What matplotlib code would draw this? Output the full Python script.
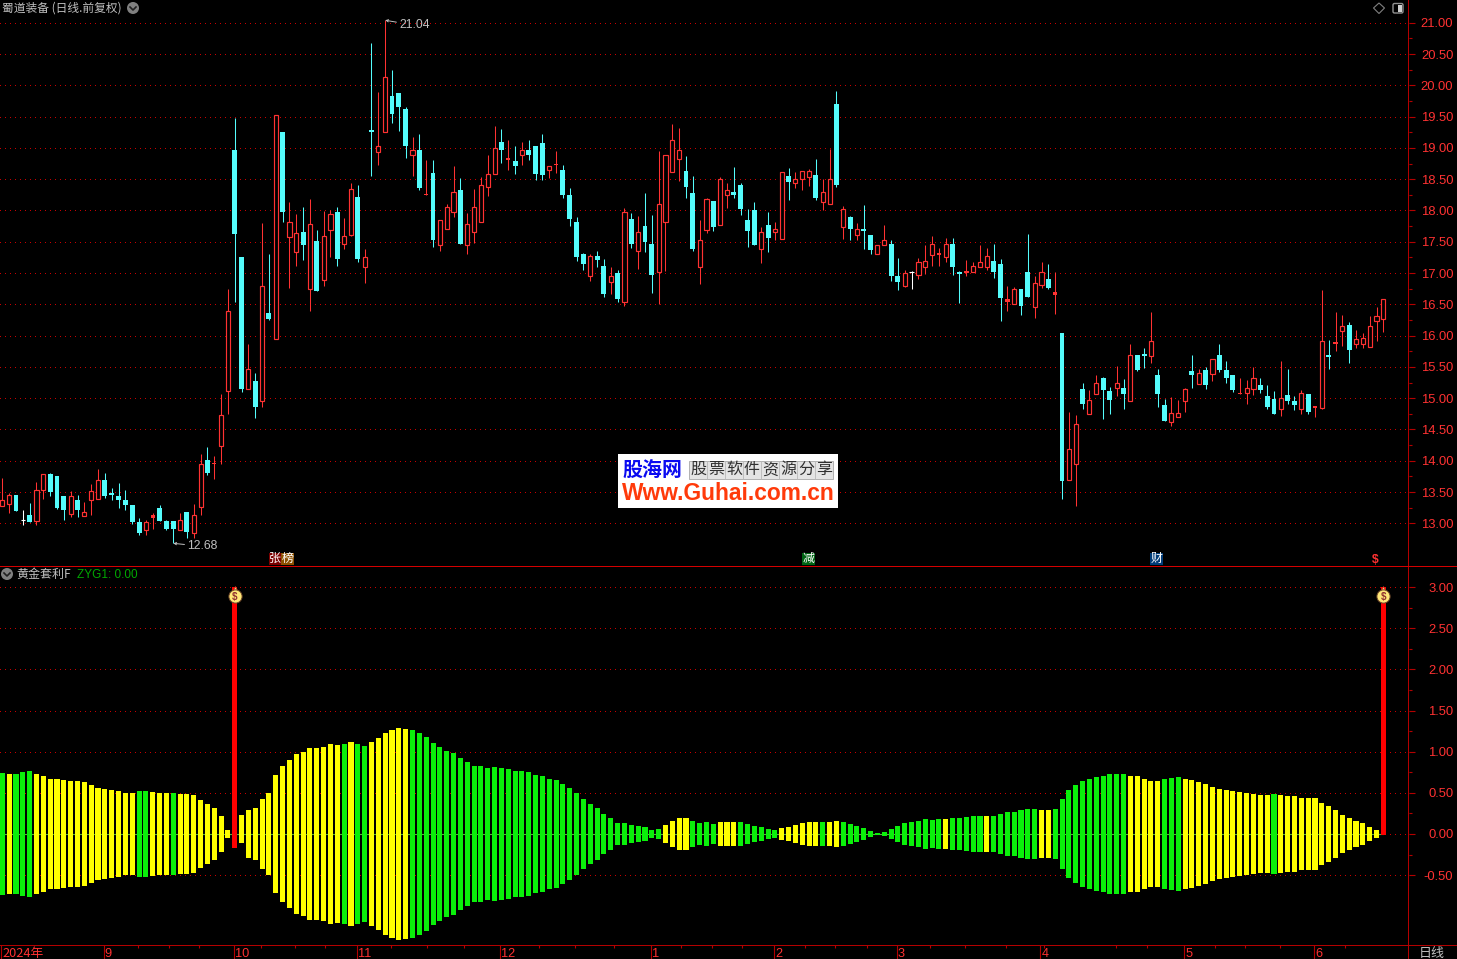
import numpy as np
import matplotlib
matplotlib.use('Agg')
import matplotlib.pyplot as plt
from matplotlib.patches import Rectangle, Circle, Polygon, FancyBboxPatch

CJK = ['Noto Sans CJK SC', 'DejaVu Sans']
NUM = ['Liberation Sans', 'DejaVu Sans']

high = [13.72,13.49,13.45,13.21,13.32,13.66,13.79,13.80,13.76,13.44,
13.52,13.45,13.34,13.63,13.87,13.80,13.56,13.64,13.53,13.29,
13.09,13.05,13.16,13.29,13.05,13.04,13.17,13.18,13.31,14.11,
14.22,14.08,15.07,16.75,19.48,17.26,15.87,15.40,17.80,17.30,
19.52,19.25,18.14,17.94,18.06,18.18,17.69,17.99,18.01,18.06,
17.88,18.44,18.41,17.38,20.68,19.89,21.04,20.25,19.88,19.65,
19.17,19.22,18.81,18.81,17.84,18.10,18.71,18.52,17.96,18.34,
18.54,18.89,19.35,19.30,19.13,19.03,19.09,19.13,19.03,19.22,
18.71,18.95,18.73,18.36,17.90,17.32,17.30,17.35,17.22,17.10,
17.05,18.04,17.96,17.91,18.28,17.93,18.95,18.89,19.38,19.32,
18.87,18.55,17.85,18.20,18.15,18.54,18.44,18.70,18.44,18.02,
18.14,17.74,17.98,17.82,18.61,18.68,18.62,18.63,18.66,18.82,
18.50,18.98,19.91,18.07,17.91,17.80,18.09,17.61,17.44,17.77,
17.53,17.24,17.05,17.04,17.24,17.45,17.59,17.40,17.56,17.56,
17.03,17.21,17.18,17.45,17.40,17.46,17.22,16.79,16.78,16.75,
17.62,16.95,17.18,17.14,17.02,16.04,14.78,14.73,15.24,15.13,
15.37,15.34,15.18,15.51,15.31,15.87,15.69,15.80,16.38,15.47,
14.99,15.02,14.97,15.16,15.69,15.47,15.50,15.62,15.87,15.59,
15.37,15.32,15.29,15.50,15.32,15.21,15.12,15.59,15.47,15.04,
15.13,15.07,14.88,16.73,15.93,16.38,16.33,16.22,16.09,16.04,
16.31,16.46,16.58]

body_top = [13.37,13.45,13.45,13.05,13.13,13.53,13.78,13.79,13.76,13.44,
13.43,13.37,13.18,13.51,13.69,13.69,13.45,13.44,13.37,13.29,
13.02,13.02,13.13,13.25,13.04,13.04,13.05,13.18,13.13,13.94,
14.01,13.96,14.73,16.39,18.97,17.26,15.46,15.27,16.79,16.36,
19.52,19.25,17.81,17.64,17.66,17.78,17.51,17.59,17.95,17.98,
17.59,18.35,18.22,17.25,19.27,19.03,20.13,19.83,19.88,19.62,
18.96,18.97,18.26,18.60,17.84,18.05,18.29,18.33,17.78,18.05,
18.40,18.58,19.00,19.09,18.83,18.79,18.96,18.97,19.03,19.08,
18.71,18.73,18.65,18.25,17.82,17.30,17.27,17.27,17.11,16.95,
17.00,17.97,17.86,17.65,17.75,17.46,18.11,18.89,19.12,18.96,
18.63,18.28,17.52,18.18,18.15,18.50,18.32,18.30,18.41,17.85,
18.01,17.65,17.77,17.70,18.61,18.55,18.51,18.63,18.63,18.57,
18.29,18.51,19.70,18.03,17.90,17.70,17.70,17.61,17.44,17.52,
17.46,16.95,17.00,17.02,17.17,17.20,17.46,17.30,17.46,17.46,
17.02,17.01,17.11,17.17,17.27,17.19,17.14,16.58,16.74,16.75,
17.02,16.84,17.01,16.91,16.69,16.04,14.18,14.58,15.15,14.97,
15.25,15.32,15.12,15.24,15.16,15.69,15.69,15.69,15.91,15.37,
14.89,14.76,14.77,15.14,15.43,15.41,15.45,15.62,15.69,15.45,
15.37,15.09,15.16,15.33,15.21,15.04,14.99,15.00,15.05,14.96,
15.09,15.07,14.86,15.92,15.69,15.88,16.16,16.17,15.94,15.96,
16.15,16.31,16.58]

body_bot = [13.28,13.31,13.19,13.05,13.02,13.03,13.53,13.50,13.25,13.21,
13.15,13.21,13.12,13.38,13.39,13.44,13.45,13.37,13.29,13.02,
12.85,12.89,13.09,13.04,12.91,12.91,12.89,12.86,12.85,13.26,
13.80,13.94,14.23,15.12,17.63,15.15,15.14,14.86,14.96,16.27,
15.95,17.97,17.57,17.33,17.45,16.75,16.71,16.89,17.68,17.22,
17.47,17.61,17.22,17.10,19.25,18.94,19.26,19.54,19.65,19.03,
18.89,18.36,18.24,17.53,17.45,17.71,17.97,17.46,17.45,17.65,
17.82,18.37,18.59,18.97,18.81,18.71,18.88,18.89,18.58,18.57,
18.64,18.72,18.25,17.86,17.26,17.14,16.95,17.21,16.67,16.86,
16.59,16.53,17.46,17.35,17.50,16.97,17.02,17.82,18.62,18.83,
18.38,17.38,17.10,17.69,17.74,17.76,18.24,18.25,18.02,17.67,
17.45,17.39,17.56,17.65,17.55,18.46,18.44,18.51,18.54,18.20,
18.13,18.11,18.41,17.74,17.70,17.60,17.67,17.37,17.31,17.44,
16.95,16.86,16.80,17.02,16.97,17.10,17.29,17.29,17.26,17.10,
16.99,17.00,17.01,17.10,17.10,17.02,16.60,16.54,16.51,16.47,
16.62,16.45,16.81,16.76,16.65,13.68,13.70,13.95,14.91,14.74,
15.06,15.13,14.97,15.17,15.07,14.96,15.45,15.67,15.68,15.07,
14.64,14.62,14.70,14.96,15.37,15.22,15.21,15.39,15.45,15.32,
15.13,15.06,15.09,15.14,15.13,14.86,14.75,14.82,14.96,14.89,
14.82,14.78,14.84,14.85,15.66,15.87,16.08,15.77,15.86,15.87,
15.81,16.23,16.26]

low = [13.28,13.17,13.19,12.97,13.02,12.97,13.39,13.44,13.23,13.05,
13.10,13.10,13.12,13.13,13.39,13.40,13.37,13.25,13.21,12.99,
12.81,12.81,12.91,13.04,12.89,12.68,12.89,12.77,12.77,13.13,
13.77,13.71,13.95,14.75,16.53,15.10,15.14,14.68,14.86,16.25,
15.95,17.82,16.76,17.11,17.21,16.39,16.71,16.79,17.26,17.11,
17.38,17.59,17.18,16.84,18.55,18.73,19.26,19.40,19.27,18.84,
18.55,18.33,18.24,17.42,17.35,17.71,17.90,17.46,17.30,17.48,
17.82,18.23,18.59,18.76,18.65,18.58,18.73,18.81,18.49,18.49,
18.52,18.60,18.20,17.75,17.19,17.05,16.87,17.10,16.62,16.67,
16.54,16.47,17.40,17.07,17.34,16.68,16.51,17.03,18.62,18.47,
18.20,17.35,16.83,17.64,17.67,17.76,18.04,18.20,17.93,17.42,
17.45,17.16,17.34,17.53,17.55,18.17,18.36,18.33,18.39,18.17,
18.01,18.11,18.38,17.54,17.53,17.53,17.38,17.30,17.31,17.44,
16.87,16.73,16.78,16.75,16.91,16.99,17.11,17.11,17.18,16.97,
16.52,16.95,17.01,17.10,17.05,16.92,16.23,16.39,16.51,16.33,
16.62,16.28,16.76,16.75,16.35,13.39,13.70,13.28,14.83,14.74,
15.06,14.67,14.75,15.04,14.83,14.96,15.43,15.48,15.56,14.86,
14.64,14.56,14.70,14.78,15.16,15.22,15.15,15.27,15.42,15.24,
15.10,15.06,14.91,15.05,15.08,14.83,14.75,14.72,14.91,14.81,
14.75,14.75,14.70,14.83,15.47,15.75,15.83,15.56,15.80,15.80,
15.81,15.91,16.06]

candle_kind = ("rrcwcrrccc" "rcrrrccccc" "crrcccrcrr" "crrrccrcrc"
               "rcrrcrcrrc" "rrcrcrrccc" "rcrcrrrcrr" "rrrcrcrccc"
               "rrccccrccr" "crcrccrrrr" "ccrrcrrccc" "crcrrcrrrc"
               "rrcrcrccrr" "ccrwrrrrrc" "crrrrccrrc" "crrcrcrrcr"
               "rccrcrccrc" "crrrcrcrcc" "crrrcccrcc" "rcrrcrrcrr" "rrr")

zyg_amp = [.74,.73,.73,.75,.76,.73,.70,.67,.67,.66,
.64,.64,.63,.60,.56,.55,.53,.52,.50,.50,
.52,.52,.51,.50,.50,.50,.49,.49,.47,.41,
.36,.31,.22,.05,3.00,.23,.29,.32,.43,.50,
.72,.82,.90,.97,1.00,1.05,1.04,1.06,1.09,1.08,
1.09,1.12,1.09,1.07,1.12,1.16,1.23,1.26,1.29,1.28,
1.26,1.23,1.18,1.11,1.06,1.01,.98,.92,.87,.83,
.82,.80,.81,.80,.79,.77,.76,.75,.72,.70,
.67,.66,.61,.56,.50,.43,.37,.32,.24,.19,
.13,.13,.11,.10,.09,.05,.06,.11,.16,.19,
.19,.16,.13,.14,.12,.14,.15,.15,.15,.12,
.10,.08,.06,.05,.07,.09,.11,.13,.15,.15,
.15,.15,.16,.15,.12,.10,.07,.04,.01,.02,
.06,.10,.13,.15,.16,.18,.17,.18,.18,.19,
.20,.21,.22,.22,.22,.22,.24,.27,.27,.29,
.30,.30,.29,.29,.30,.43,.53,.60,.64,.67,
.69,.71,.73,.73,.73,.71,.70,.67,.64,.64,
.67,.68,.69,.67,.65,.63,.61,.57,.55,.53,
.52,.51,.50,.48,.47,.47,.48,.47,.46,.46,
.44,.44,.44,.38,.34,.29,.23,.20,.16,.13,
.09,.05,3.00]
zyg_lower_override = {34: -0.17, 35: -0.11, 202: -0.01}

zyg_colors = ('G' 'Y' 'GGG' + 'Y'*15 + 'GG' + 'YYY' + 'G' + 'Y'*8 + 'R' + 'Y'*15 + 'G' + 'Y' + 'GG'
              + 'Y'*6 + 'G'*37 + 'Y'*4 + 'G'*4 + 'Y'*3 + 'G'*6 + 'Y'*6 + 'G' + 'YY' + 'G'*15
              + 'Y' + 'G'*5 + 'Y' + 'G'*7 + 'YY' + 'G'*11 + 'Y'*5 + 'GGG' + 'Y'*13 + 'G' + 'Y'*15 + 'R')

price_ticks = [13 + 0.5*k for k in range(17)]
zyg_ticks = [-0.5 + 0.5*k for k in range(8)]
month_idx = [0, 15, 34, 52, 73, 95, 113, 131, 152, 173, 192]
month_labels = ['2024年', '9', '10', '11', '12', '1', '2', '3', '4', '5', '6']
week_idx = [20, 24.6, 29, 38, 43, 47.4, 57, 62.3, 67.7, 78.6, 84, 89.6, 99.4, 104, 108.4,
            117.6, 122, 126.6, 135.8, 141, 147, 152.6, 163, 167.6, 177.6, 182, 187, 196.6]

X_PER = 6.837
X0 = 2.3
W, H = 1457, 959
BG = 'black'
AXC = '#B40000'
GRID = '#C80000'
TICKC = '#FF3232'
RED = '#FF3232'
CYAN = '#54FCFC'
GRAY = '#C0C0C0'

fig = plt.figure(figsize=(W/100, H/100), dpi=100, facecolor=BG)
def add_ax(top, bottom):
    return fig.add_axes([0, 1-bottom/H, 1408.5/W, (bottom-top)/H], facecolor=BG)

ax = add_ax(0, 566.5)
ax2 = add_ax(566.5, 945)
xlim = ((0-X0)/X_PER, (1408.5-X0)/X_PER)
ax.set_xlim(*xlim); ax2.set_xlim(*xlim)
ax.set_ylim(13-(566.5-523.3)/62.57, 13+523.3/62.57)
ax2.set_ylim(-(945-834)/82.33, (834-566.5)/82.33)

for a, ticks in ((ax, price_ticks), (ax2, zyg_ticks)):
    for s in a.spines.values():
        s.set_visible(False)
    a.yaxis.tick_right()
    a.set_yticks(ticks)
    a.set_yticks([t+0.25 for t in ticks[:-1]], minor=True)
    a.set_yticklabels(['%.2f' % t for t in ticks], fontfamily=NUM, fontsize=9.4, color=TICKC, ha='right')
    a.tick_params(axis='y', which='major', length=4.3, width=0.8, color=AXC, pad=28)
    a.tick_params(axis='y', which='minor', length=2.2, width=0.8, color=AXC)
    for t in ticks:
        a.axhline(t, color=GRID, lw=0.7, ls=(0, (0.9, 4.2)), zorder=1, antialiased=False)

ax.set_xticks([])

# candles
x = np.arange(len(high))
h = np.array(high); l = np.array(low); t = np.array(body_top); b = np.array(body_bot)
kinds = list(candle_kind)
cmap = {'r': RED, 'c': CYAN, 'w': 'white'}
wick_cols = [cmap[k] for k in kinds]
ax.vlines(x, l, h, colors=wick_cols, lw=0.75, zorder=2)
for i, k in enumerate(kinds):
    hgt = t[i]-b[i]
    if k == 'r':
        if hgt < 0.05:
            ax.bar(i, max(hgt, 0.03), bottom=b[i], width=0.64, color=RED, lw=0, zorder=3, antialiased=False)
        else:
            ax.bar(i, hgt, bottom=b[i], width=0.6, facecolor=BG, edgecolor=RED, lw=0.85, zorder=3)
    elif k == 'c':
        ax.bar(i, max(hgt, 0.03), bottom=b[i], width=0.72, color=CYAN, lw=0, zorder=3, antialiased=False)
    else:
        ax.hlines(t[i], i-0.32, i+0.32, colors='white', lw=0.8, zorder=3)

ax.annotate('21.04', xy=(56, 21.04), xytext=(14, -5), textcoords='offset pixels',
            color=GRAY, fontsize=8.8, family=NUM, va='center', ha='left',
            arrowprops=dict(arrowstyle='->', color=GRAY, lw=0.7, shrinkA=0, shrinkB=0, mutation_scale=4))
ax.annotate('12.68', xy=(25, 12.68), xytext=(14, -3), textcoords='offset pixels',
            color=GRAY, fontsize=8.8, family=NUM, va='center', ha='left',
            arrowprops=dict(arrowstyle='->', color=GRAY, lw=0.7, shrinkA=0, shrinkB=0, mutation_scale=4))

# indicator
amp = np.array(zyg_amp)
upper = amp.copy()
lower = -amp.copy()
for k, v in zyg_lower_override.items():
    lower[k] = v
ccol = {'G': '#0AF00A', 'Y': '#FFFF00', 'R': '#FF0000'}
bar_colors = [ccol[c] for c in zyg_colors]
ax2.plot(x, np.zeros(len(x)), color='#5AB43C', lw=0.8, zorder=1.5)
ax2.bar(x, upper-lower, bottom=lower, width=0.74, color=bar_colors, lw=0, zorder=3, antialiased=False)

for i in np.where(amp >= 3)[0]:
    ax2.plot([i], [2.98], marker='^', ms=4, mfc='#FFD278', mec='#C03020', mew=0.5, zorder=5)
    ax2.plot([i], [2.89], marker='o', ms=9.5, mfc='#FFE878', mec='#6E4628', mew=0.7, zorder=5)
    ax2.text(i, 2.88, '$', color='#903030', fontsize=7, fontweight='bold', family=NUM,
             ha='center', va='center', zorder=6)

# date axis
ax2.set_xticks([m-0.17 for m in month_idx])
ax2.set_xticks([w-0.17 for w in week_idx], minor=True)
ax2.set_xticklabels([])
ax2.tick_params(axis='x', which='major', length=10, width=0.8, color=AXC, direction='out')
ax2.tick_params(axis='x', which='minor', length=1.8, width=0.8, color=AXC, direction='out')
for m, lab in zip(month_idx, month_labels):
    ax2.annotate(lab, xy=(m, -1.348), xytext=(0, -9), textcoords='offset pixels',
                 color=RED, fontsize=9.2, family=CJK if '年' in lab else NUM,
                 ha='left', va='center', annotation_clip=False)

# overlay in figure pixels
ov = fig.add_axes([0, 0, 1, 1], facecolor='none', zorder=10)
ov.set_xlim(0, W); ov.set_ylim(H, 0); ov.axis('off')
px = 0.72
def txt(xp, yp, s, color=GRAY, size=12, fam=CJK, **kw):
    kw.setdefault('ha', 'left'); kw.setdefault('va', 'center')
    ov.text(xp, yp, s, color=color, fontsize=size*px, family=fam, **kw)

ov.add_patch(Rectangle((1408, 0), 1, 959, fc=AXC, lw=0, antialiased=False))
ov.add_patch(Rectangle((0, 566), 1457, 1, fc='#D40000', lw=0, antialiased=False))
ov.add_patch(Rectangle((0, 945), 1457, 1, fc=AXC, lw=0, antialiased=False))
txt(2, 8, '蜀道装备 (日线.前复权)', size=11.7)
txt(16, 574, '黄金套利F', size=12)
txt(77, 574.5, 'ZYG1: 0.00', color='#00A800', size=11.7, fam=NUM)
txt(1419, 953, '日线', size=13)

def icon(cx, cy):
    ov.add_patch(Circle((cx, cy), 6, fc='#808080', ec='none'))
    ov.plot([cx-3, cx, cx+3], [cy-1, cy+2, cy-1], color='#202020', lw=1.2)
icon(133, 8); icon(7, 574)
ov.add_patch(Polygon([(1379, 3), (1384.5, 8), (1379, 13.5), (1373.5, 8)], fc='none', ec='#808080', lw=0.8))
ov.add_patch(FancyBboxPatch((1393, 3.5), 10, 9.5, boxstyle='round,pad=0,rounding_size=1.5', fc='none', ec='#909090', lw=1))
ov.add_patch(Rectangle((1398, 5), 4, 6.5, fc='#D0D0D0', ec='none'))

# badges
def badge(x0, w, color, s, tc='white'):
    ov.add_patch(Rectangle((x0, 552.5), w, 12.5, fc=color, ec='none'))
    txt(x0+w/2, 558.6, s, color=tc, size=12, ha='center')
badge(269, 12, '#7A0000', '张')
badge(281, 12.5, '#8C5000', '榜')
badge(802, 13, '#006414', '减')
badge(1150, 13, '#003C78', '财')
txt(1375, 560, '$', color=RED, size=12, fam=NUM, ha='center', fontweight='bold')

# watermark
ov.add_patch(Rectangle((618, 454), 220, 54, fc='white', ec='none'))
txt(622, 469.5, '股海网', color='#0A0AF0', size=20, fontweight='bold')
ov.add_patch(Rectangle((689, 461), 144, 18, fc='#E4E4E4', ec='#A8A8A8', lw=0.6))
for k, ch in enumerate('股票软件资源分享'):
    if k:
        ov.plot([689+18*k]*2, [461, 479], color='#B8B8B8', lw=0.6)
    txt(689+18*k+9, 469.8, ch, color='#303030', size=16, ha='center')
txt(621.5, 493, 'Www.Guhai.com.cn', color='#FF3A0A', size=22.8, fam=NUM, fontweight='bold')

fig.savefig('out.png', dpi=100, facecolor=BG)
